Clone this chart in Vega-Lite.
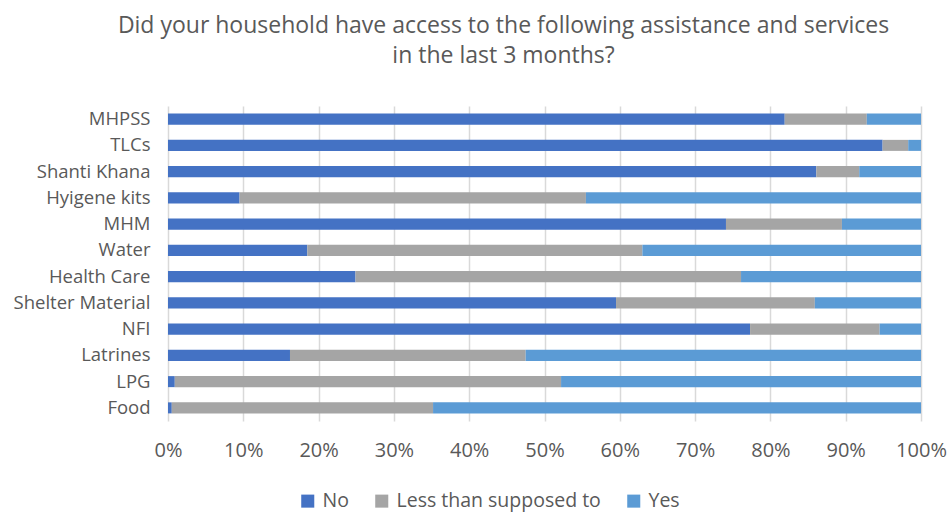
{
  "$schema": "https://vega.github.io/schema/vega-lite/v6.json",
  "width": 753,
  "height": 315,
  "autosize": {"type": "none"},
  "padding": {"left": 168, "top": 106, "right": 27, "bottom": 93},
  "background": "white",
  "title": {
    "text": ["Did your household have access to the following assistance and services", "in the last 3 months?"],
    "anchor": "middle",
    "frame": "group",
    "dx": -41,
    "offset": 38,
    "font": "Open Sans",
    "fontSize": 23,
    "fontWeight": "normal",
    "color": "#595959",
    "lineHeight": 30
  },
  "data": {
    "values": [
      {"category": "MHPSS", "response": "No", "order": 1, "value": 81.9},
      {"category": "MHPSS", "response": "Less than supposed to", "order": 2, "value": 10.9},
      {"category": "MHPSS", "response": "Yes", "order": 3, "value": 7.2},
      {"category": "TLCs", "response": "No", "order": 1, "value": 94.9},
      {"category": "TLCs", "response": "Less than supposed to", "order": 2, "value": 3.4},
      {"category": "TLCs", "response": "Yes", "order": 3, "value": 1.7},
      {"category": "Shanti Khana", "response": "No", "order": 1, "value": 86.1},
      {"category": "Shanti Khana", "response": "Less than supposed to", "order": 2, "value": 5.7},
      {"category": "Shanti Khana", "response": "Yes", "order": 3, "value": 8.2},
      {"category": "Hyigene kits", "response": "No", "order": 1, "value": 9.5},
      {"category": "Hyigene kits", "response": "Less than supposed to", "order": 2, "value": 46.0},
      {"category": "Hyigene kits", "response": "Yes", "order": 3, "value": 44.5},
      {"category": "MHM", "response": "No", "order": 1, "value": 74.1},
      {"category": "MHM", "response": "Less than supposed to", "order": 2, "value": 15.4},
      {"category": "MHM", "response": "Yes", "order": 3, "value": 10.5},
      {"category": "Water", "response": "No", "order": 1, "value": 18.5},
      {"category": "Water", "response": "Less than supposed to", "order": 2, "value": 44.5},
      {"category": "Water", "response": "Yes", "order": 3, "value": 37.0},
      {"category": "Health Care", "response": "No", "order": 1, "value": 24.9},
      {"category": "Health Care", "response": "Less than supposed to", "order": 2, "value": 51.2},
      {"category": "Health Care", "response": "Yes", "order": 3, "value": 23.9},
      {"category": "Shelter Material", "response": "No", "order": 1, "value": 59.5},
      {"category": "Shelter Material", "response": "Less than supposed to", "order": 2, "value": 26.4},
      {"category": "Shelter Material", "response": "Yes", "order": 3, "value": 14.1},
      {"category": "NFI", "response": "No", "order": 1, "value": 77.3},
      {"category": "NFI", "response": "Less than supposed to", "order": 2, "value": 17.2},
      {"category": "NFI", "response": "Yes", "order": 3, "value": 5.5},
      {"category": "Latrines", "response": "No", "order": 1, "value": 16.2},
      {"category": "Latrines", "response": "Less than supposed to", "order": 2, "value": 31.3},
      {"category": "Latrines", "response": "Yes", "order": 3, "value": 52.5},
      {"category": "LPG", "response": "No", "order": 1, "value": 0.9},
      {"category": "LPG", "response": "Less than supposed to", "order": 2, "value": 51.3},
      {"category": "LPG", "response": "Yes", "order": 3, "value": 47.8},
      {"category": "Food", "response": "No", "order": 1, "value": 0.5},
      {"category": "Food", "response": "Less than supposed to", "order": 2, "value": 34.7},
      {"category": "Food", "response": "Yes", "order": 3, "value": 64.8}
    ]
  },
  "mark": {"type": "bar"},
  "encoding": {
    "y": {
      "field": "category",
      "type": "nominal",
      "sort": null,
      "scale": {"paddingInner": 0.58, "paddingOuter": 0.29},
      "axis": {
        "title": null,
        "domain": false,
        "ticks": false,
        "grid": false,
        "labelFont": "Open Sans",
        "labelFontSize": 18.5,
        "labelColor": "#595959",
        "labelPadding": 18,
        "labelLimit": 0,
        "labelExpr": "indexof(['Water','Latrines','Food','Hyigene kits'], datum.label) >= 0 ? datum.label + '\u00a0' : datum.label"
      }
    },
    "x": {
      "field": "value",
      "type": "quantitative",
      "stack": "normalize",
      "scale": {"domain": [0, 1], "nice": false},
      "axis": {
        "title": null,
        "format": ".0%",
        "values": [0, 0.1, 0.2, 0.3, 0.4, 0.5, 0.6, 0.7, 0.8, 0.9, 1],
        "domain": false,
        "ticks": false,
        "grid": true,
        "gridColor": "#D9D9D9",
        "gridWidth": 1.5,
        "labelFont": "Open Sans",
        "labelFontSize": 20,
        "labelColor": "#595959",
        "labelPadding": 19,
        "labelFlush": false
      }
    },
    "color": {
      "field": "response",
      "type": "nominal",
      "scale": {
        "domain": ["No", "Less than supposed to", "Yes"],
        "range": ["#4472C4", "#A5A5A5", "#5B9BD5"]
      },
      "legend": {
        "title": null,
        "orient": "none",
        "legendX": 130,
        "legendY": 385,
        "direction": "horizontal",
        "symbolType": "square",
        "symbolSize": 170,
        "symbolStrokeWidth": 0,
        "labelFont": "Open Sans",
        "labelFontSize": 19.5,
        "labelColor": "#595959",
        "labelOffset": 5,
        "labelLimit": 0,
        "columnPadding": 23
      }
    },
    "order": {"field": "order", "type": "quantitative"}
  },
  "config": {
    "view": {"stroke": null}
  }
}
